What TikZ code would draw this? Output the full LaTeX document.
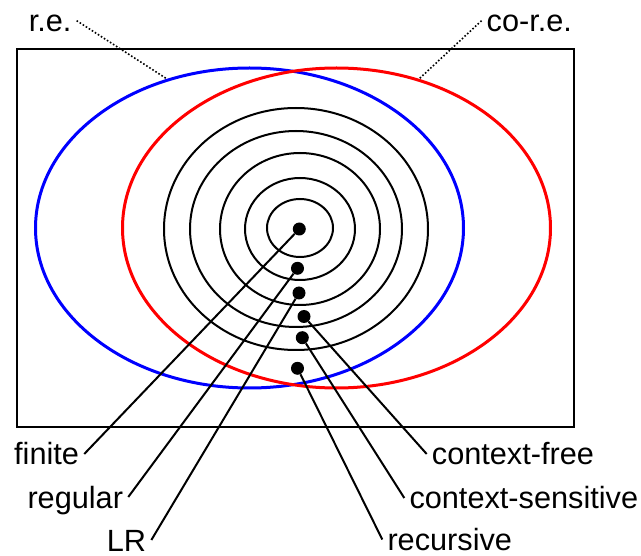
\documentclass[tikz,border=0pt]{standalone}
\usepackage{fontspec}
\setmainfont{Liberation Sans}
\usepackage{tikz}
\usetikzlibrary{shapes.geometric}
\definecolor{reblue}{HTML}{0000FF}
\definecolor{corered}{HTML}{FF0000}
\tikzset{
  ring/.style 2 args={
    draw=black, ellipse, line width=2pt, inner sep=0pt,
    minimum width=#1, minimum height=#2,
  },
  langset/.style={draw=#1, ellipse, line width=3pt, inner sep=0pt,
    minimum width=428pt, minimum height=320pt},
  dot/.style={circle, fill=black, inner sep=0pt, minimum size=13pt},
  lbl/.style={font=\fontsize{30.7}{36}\selectfont, inner xsep=5pt, inner ysep=0pt,
    text height=22pt, text depth=0pt},
  pointer/.style={line width=2pt},
  hint/.style={line width=1.6pt, dotted},
}

\begin{document}
\begin{tikzpicture}[x=1pt, y=-1pt]
  \useasboundingbox (0,0) rectangle (641,556);

  % frame
  \draw[line width=2pt] (17,49) rectangle (574,427);

  % nested classes
  \node[ring={66pt}{58pt}]   (finring) at (300,228) {};
  \node[ring={110pt}{102pt}] (regring) at (300,229) {};
  \node[ring={160pt}{152pt}] (lrring)  at (300,229) {};
  \node[ring={212pt}{196pt}] (cfring)  at (296,229) {};
  \node[ring={264pt}{242pt}] (csring)  at (296,229) {};

  \node[langset=reblue]   (re)   at (249.5,228) {};
  \node[langset=corered]  (core) at (336.5,228) {};

  % one language in each class
  \node[dot] (d1) at (299.3,229) {};
  \node[dot] (d2) at (297.5,268.3) {};
  \node[dot] (d3) at (299,293) {};
  \node[dot] (d4) at (304,316.5) {};
  \node[dot] (d5) at (302.3,337.7) {};
  \node[dot] (d6) at (297.5,368.3) {};

  \node[lbl, anchor=base west] (finite)  at (9,465)     {finite};
  \node[lbl, anchor=base west] (regular) at (22.3,508)  {regular};
  \node[lbl, anchor=base west] (lr)      at (101.7,551) {LR};
  \node[lbl, anchor=base west] (cf)      at (426.7,465) {context-free};
  \node[lbl, anchor=base west] (cs)      at (404.3,509) {context-sensitive};
  \node[lbl, anchor=base west] (rec)     at (382.3,550.5) {recursive};
  \node[lbl, anchor=base west] (relbl)   at (23.6,31.7) {r.e.};
  \node[lbl, anchor=base west] (corelbl) at (481.5,31.7) {co-r.e.};

  \draw[pointer] (d1) -- (finite.east);
  \draw[pointer] (d2) -- (regular.east);
  \draw[pointer] (d3) -- (lr.east);
  \draw[pointer] (d4) -- (cf.west);
  \draw[pointer] (d5) -- (cs.west);
  \draw[pointer] (d6) -- (rec.west);

  \draw[hint] (relbl.east) -- (re.119.4);
  \draw[hint] (corelbl.west) -- (core.61);
\end{tikzpicture}
\end{document}
